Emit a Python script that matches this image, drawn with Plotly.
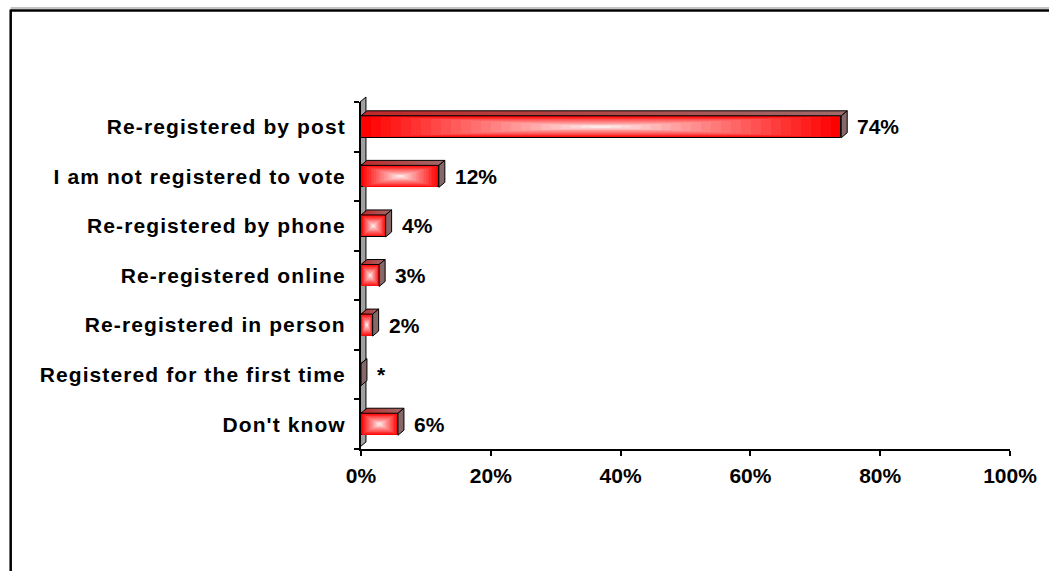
import plotly.graph_objects as go

categories = ["Re-registered by post", "I am not registered to vote", "Re-registered by phone",
              "Re-registered online", "Re-registered in person", "Registered for the first time",
              "Don't know"]
values = [74, 12, 3.8, 2.8, 1.8, 0, 5.7]
value_labels = ["74%", "12%", "4%", "3%", "2%", "*", "6%"]
x_ticks = [0, 20, 40, 60, 80, 100]
x_tick_labels = ["0%", "20%", "40%", "60%", "80%", "100%"]

W, H = 1049, 571
ML, MR, MT, MB = 361, 34, 102, 122
PW = W - ML - MR
PH = H - MT - MB
NCAT = len(categories)

def px(xpix):
    return (xpix - ML) / PW

def py(ypix):
    return (H - MB - ypix) / PH

FONT = "Liberation Sans, Arial, sans-serif"
BAR_W = 0.443
DX = 6 / PW * 100
DY = 5 / PH * NCAT
N = 24
pos = list(range(NCAT))

def mix(c1, c2, t):
    return "rgb(%d,%d,%d)" % tuple(round(a + (b - a) * t) for a, b in zip(c1, c2))

edge = (255, 0, 0)
center = (255, 242, 242)

fig = go.Figure()
for k in range(N):
    f = k / N
    fig.add_trace(go.Bar(
        orientation="h", y=pos,
        x=[v * (1 - f) for v in values],
        base=[v * f / 2 for v in values],
        width=BAR_W * (1 - f),
        marker=dict(color=mix(edge, center, f),
                    line=dict(width=1 if k == 0 else 0, color="black")),
        hoverinfo="skip", showlegend=False))

for i, v in enumerate(values):
    top = i - BAR_W / 2
    bot = i + BAR_W / 2
    fig.add_trace(go.Scatter(
        x=[0, v, v + DX, DX, 0], y=[top, top, top - DY, top - DY, top],
        mode="lines", fill="toself", line=dict(color="black", width=1),
        fillgradient=dict(type="horizontal", colorscale=[[0, "#c02828"], [1, "#a06a6a"]]),
        hoverinfo="skip", showlegend=False))
    fig.add_trace(go.Scatter(
        x=[v, v + DX, v + DX, v, v], y=[top, top - DY, bot - DY, bot, top],
        mode="lines", fill="toself", line=dict(color="black", width=1),
        fillcolor="#866868", hoverinfo="skip", showlegend=False))

fig.add_trace(go.Scatter(x=[0], y=[0], yaxis="y2", mode="markers",
                         marker=dict(opacity=0), hoverinfo="skip", showlegend=False))

for i, (v, lab) in enumerate(zip(values, value_labels)):
    fig.add_annotation(x=v, y=i, text=lab, showarrow=False, xanchor="left", xshift=14,
                       font=dict(family=FONT, size=21, color="black", weight="bold"))

shapes = [
    dict(type="path", xref="paper", yref="paper", layer="below",
         path="M %f,%f L %f,%f L %f,%f L %f,%f Z" % (px(360), py(102), px(366), py(97),
                                                      px(366), py(442), px(360), py(447)),
         fillcolor="#a0a0a0", line=dict(color="black", width=1)),
    dict(type="line", xref="paper", yref="paper", x0=px(8), x1=px(1080), y0=py(8), y1=py(8),
         line=dict(color="#b0b0b0", width=1.5)),
    dict(type="line", xref="paper", yref="paper", x0=px(8), x1=px(1080), y0=py(10.5), y1=py(10.5),
         line=dict(color="black", width=2.5)),
    dict(type="line", xref="paper", yref="paper", x0=px(8), x1=px(8), y0=py(9.5), y1=py(620),
         line=dict(color="black", width=2.5)),
]

fig.update_layout(
    width=W, height=H,
    margin=dict(l=ML, r=MR, t=MT, b=MB),
    paper_bgcolor="white", plot_bgcolor="white",
    barmode="overlay", bargap=0,
    showlegend=False,
    shapes=shapes,
    xaxis=dict(range=[0, 100], tickvals=x_ticks, ticktext=x_tick_labels,
               showline=True, linecolor="black", linewidth=2,
               ticks="outside", ticklen=5, tickwidth=1.5, tickcolor="black",
               showgrid=False, zeroline=False, ticklabelstandoff=2,
               tickfont=dict(family=FONT, size=21, color="black", weight="bold")),
    yaxis=dict(range=[NCAT - 0.5, -0.5], tickvals=pos, ticktext=categories,
               showline=True, linecolor="black", linewidth=2, ticks="",
               showgrid=False, zeroline=False, ticklabelstandoff=9,
               tickfont=dict(family=FONT, size=21, color="black", weight="bold")),
    yaxis2=dict(overlaying="y", anchor="free", position=0, shift=-2, side="left",
                range=[NCAT - 0.5, -0.5], tickvals=[j - 0.5 for j in range(NCAT + 1)],
                ticks="outside", ticklen=5, tickwidth=1.5, tickcolor="black",
                showticklabels=False, showgrid=False, zeroline=False, showline=False),
)

letter_spacing_js = (
    "document.querySelectorAll('g.ytick text').forEach(function(t){"
    "t.style.letterSpacing='1.1px';});"
)

fig.write_html("out.html", post_script=letter_spacing_js)
